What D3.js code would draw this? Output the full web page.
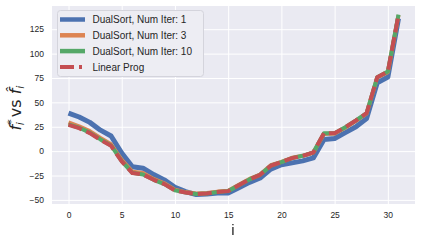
<!DOCTYPE html>
<html>
<head>
<meta charset="utf-8">
<script src="https://cdn.jsdelivr.net/npm/d3@7"></script>
<style>
  body { margin: 0; background: #fff; }
  text { font-family: "Liberation Sans", Arial, sans-serif; }
</style>
</head>
<body>
<script>
// values
const idx = d3.range(32);
const iter1 = [39, 35, 29.5, 21.5, 15.5, -2, -16, -17.5, -24, -29.5, -37, -41.5, -44.5, -44, -43, -43,
  -37.5, -32, -27.5, -18.5, -14, -12, -10, -7, 12, 13, 19, 25, 33.5, 70, 76, 136];
const iter3 = [29.5, 25.5, 20.5, 13.5, 7, -9, -21, -22.5, -28.5, -33, -39.5, -42, -43.5, -43, -41.5, -40.5,
  -34.5, -28.5, -24, -14.5, -11, -6.8, -4.8, -1.5, 17.5, 18, 24, 31, 38.5, 75.5, 81, 139.5];
const iter10 = [27.5, 24, 19, 12, 5.8, -10.3, -22.3, -24, -29.4, -33.8, -40.2, -42.4, -44, -43.4, -42, -41,
  -35, -29, -24.3, -15, -11.3, -7.2, -4.8, -1.4, 18.4, 18.4, 24.6, 31.4, 38.9, 75.8, 81.6, 140];
const linprog = [27, 23.5, 18.5, 11.5, 5.4, -10.6, -22.5, -24, -29.4, -33.8, -40.3, -42.4, -44, -43.4, -42, -41,
  -34.9, -29, -24.3, -15, -11.3, -7.2, -4.8, -1.4, 18.4, 18.4, 24.6, 31.4, 38.9, 75.8, 81.6, 139.6];
const xTicks = [0, 5, 10, 15, 20, 25, 30];
const yTicks = [-50, -25, 0, 25, 50, 75, 100, 125];
const labels = ['DualSort, Num Iter: 1', 'DualSort, Num Iter: 3', 'DualSort, Num Iter: 10', 'Linear Prog'];
const colors = ['#4c72b0', '#dd8452', '#55a868', '#c44e52'];

const W = 421, H = 242;
const mLeft = 52, mRight = 415, mTop = 6, mBottom = 204;

const svg = d3.select('body').append('svg')
    .attr('width', W)
    .attr('height', H);

const x = d3.scaleLinear().domain([-1.55, 32.55]).range([mLeft, mRight]);
const y = d3.scaleLinear().domain([-54.2, 148.8]).range([mBottom, mTop]);

svg.append('rect')
    .attr('x', mLeft).attr('y', mTop)
    .attr('width', mRight - mLeft).attr('height', mBottom - mTop)
    .attr('fill', '#eaeaf2');

// grid
svg.append('g').attr('transform', `translate(0,${mBottom})`)
    .call(d3.axisBottom(x).tickValues(xTicks).tickSize(-(mBottom - mTop)).tickFormat(''))
    .call(g => g.select('.domain').remove())
    .call(g => g.selectAll('line').attr('stroke', '#fff').attr('stroke-width', 1));
svg.append('g').attr('transform', `translate(${mLeft},0)`)
    .call(d3.axisLeft(y).tickValues(yTicks).tickSize(-(mRight - mLeft)).tickFormat(''))
    .call(g => g.select('.domain').remove())
    .call(g => g.selectAll('line').attr('stroke', '#fff').attr('stroke-width', 1));

// tick labels
svg.append('g').attr('transform', `translate(0,${mBottom})`)
    .call(d3.axisBottom(x).tickValues(xTicks).tickSize(0).tickPadding(8))
    .call(g => g.select('.domain').remove())
    .call(g => g.selectAll('text').attr('fill', '#262626').style('font-size', '8.5px')
      .style('font-family', '"Liberation Sans", Arial, sans-serif'));
svg.append('g').attr('transform', `translate(${mLeft},0)`)
    .call(d3.axisLeft(y).tickValues(yTicks).tickSize(0).tickPadding(8)
      .tickFormat(d => d < 0 ? '\u2212' + Math.abs(d) : d))
    .call(g => g.select('.domain').remove())
    .call(g => g.selectAll('text').attr('fill', '#262626').style('font-size', '8.5px')
      .style('font-family', '"Liberation Sans", Arial, sans-serif'));

// lines
const line = d3.line().x((d, i) => x(idx[i])).y(d => y(d));
const series = [iter1, iter3, iter10, linprog];
const widths = [5, 4, 4, 4];
series.forEach((s, k) => {
  svg.append('path')
      .datum(s)
      .attr('d', line)
      .attr('fill', 'none')
      .attr('stroke', colors[k])
      .attr('stroke-width', widths[k])
      .attr('stroke-linejoin', 'round')
      .attr('stroke-dasharray', k === 3 ? '14,5' : null);
});

// axis labels
svg.append('text')
    .attr('x', (mLeft + mRight) / 2 - 0.5)
    .attr('y', 235)
    .attr('text-anchor', 'middle')
    .attr('fill', '#262626')
    .style('filter', 'grayscale(1)')
    .style('font-size', '15px')
    .text('i');

const yl = svg.append('text')
    .attr('transform', 'translate(21,108) rotate(-90)')
    .attr('text-anchor', 'middle')
    .attr('fill', '#262626')
    .style('font-family', '"DejaVu Sans", sans-serif')
    .style('font-size', '16px');
yl.append('tspan').style('font-style', 'italic').text('f');
yl.append('tspan').attr('dy', -6).style('font-size', '11px').text('*');
yl.append('tspan').attr('dx', -6).attr('dy', 9).style('font-size', '11px').style('font-style', 'italic').text('i');
yl.append('tspan').attr('dy', -3).text(' vs ');
yl.append('tspan').style('font-style', 'italic').text('f\u0302');
yl.append('tspan').attr('dy', 3).style('font-size', '11px').style('font-style', 'italic').text('i');

// legend
const lg = svg.append('g');
lg.append('rect')
    .attr('x', 57.5).attr('y', 10.5)
    .attr('width', 146).attr('height', 66)
    .attr('rx', 3)
    .attr('fill', '#ededf3')
    .attr('stroke', '#d4d4dc')
    .attr('stroke-width', 1);
labels.forEach((t, k) => {
  const yy = 19.5 + k * 15.8;
  lg.append('line')
      .attr('x1', 60).attr('x2', k === 3 ? 82 : 85)
      .attr('y1', yy).attr('y2', yy)
      .attr('stroke', colors[k])
      .attr('stroke-width', k === 3 ? 4 : 4.5)
      .attr('stroke-dasharray', k === 3 ? '14,5' : null);
  lg.append('text')
      .attr('x', 92.5).attr('y', yy + 3.6)
      .attr('fill', '#262626')
      .style('font-size', '10px')
      .text(t);
});
</script>
</body>
</html>
